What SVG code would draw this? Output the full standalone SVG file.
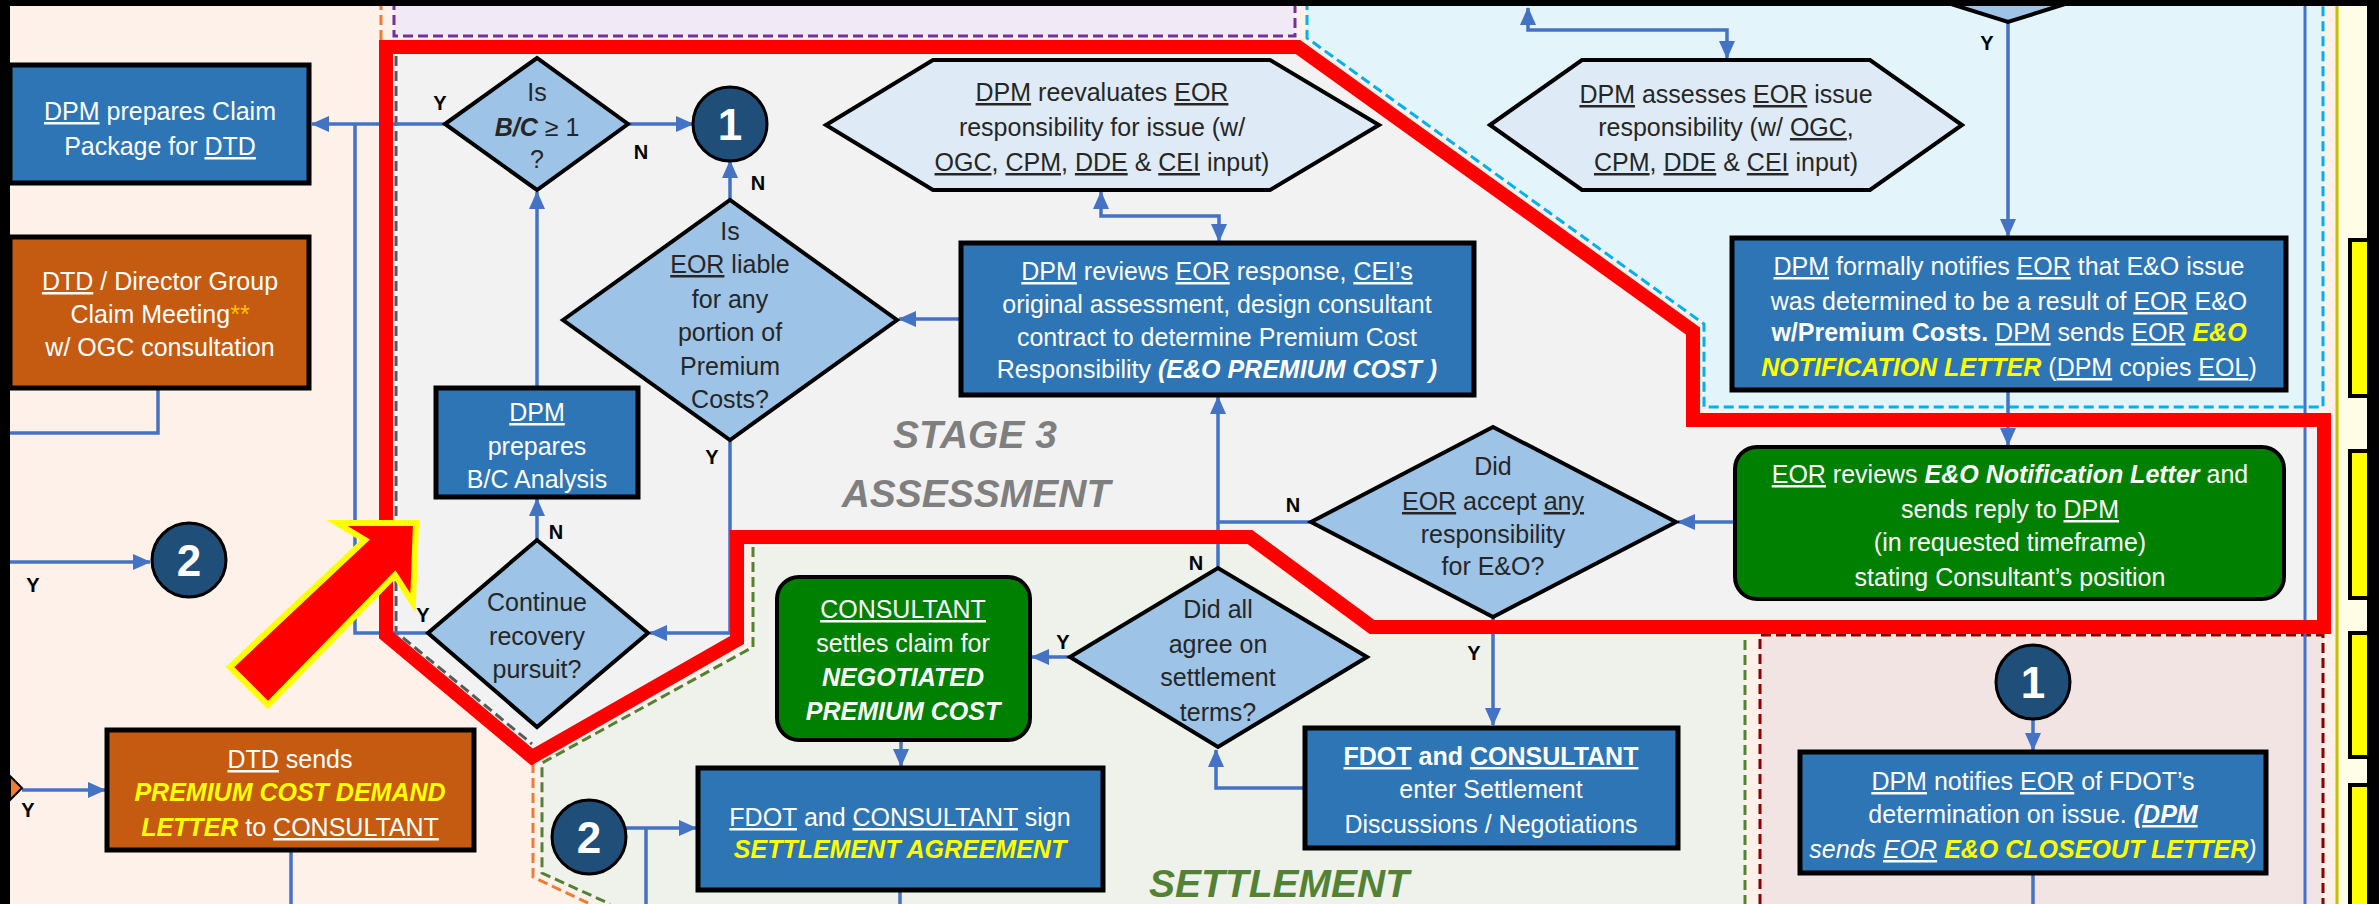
<svg xmlns="http://www.w3.org/2000/svg" width="2379" height="904" viewBox="0 0 2379 904">
<defs>
<style>
.box{fill:#2E75B6;stroke:#000;stroke-width:5}
.org{fill:#C55A11;stroke:#000;stroke-width:5}
.grn{fill:#008000;stroke:#000;stroke-width:4}
.dia{fill:#9DC3E6;stroke:#000;stroke-width:4}
.hex{fill:#DEEBF7;stroke:#000;stroke-width:4}
.circ{fill:#1F4E79;stroke:#000;stroke-width:3}
.t{font-family:"Liberation Sans",Arial,sans-serif;font-size:25px;text-anchor:middle}
.w{fill:#fff}
.d{fill:#262626}
.u{text-decoration:underline}
.b{font-weight:bold}
.i{font-style:italic}
.bi{font-weight:bold;font-style:italic}
.yl{fill:#FFFF00}
.num{font-family:"Liberation Sans",Arial,sans-serif;font-size:44px;font-weight:bold;fill:#fff;text-anchor:middle}
.lb{font-family:"Liberation Sans",Arial,sans-serif;font-size:20px;font-weight:bold;fill:#000;text-anchor:middle}
.stage{font-family:"Liberation Sans",Arial,sans-serif;font-size:39px;font-weight:bold;font-style:italic;text-anchor:middle}
.cn path,.cn line{fill:none;stroke:#4472C4;stroke-width:3.5}
.dash{fill:none;stroke-width:3;stroke-dasharray:10 5}
</style>
<marker id="ah" viewBox="0 0 18 16" refX="17" refY="8" markerWidth="18" markerHeight="16" markerUnits="userSpaceOnUse" orient="auto-start-reverse">
<path d="M0,0 L18,8 L0,16 z" fill="#4472C4"/>
</marker>
</defs>

<!-- backgrounds -->
<rect x="0" y="0" width="2379" height="904" fill="#FDF1EA"/>
<rect x="394" y="-5" width="901" height="41" fill="#F1E9F5"/>
<path class="dash" stroke="#7030A0" d="M394,0 V36 H1295 V0"/>
<path class="dash" stroke="#ED7D31" d="M381,0 V60"/>
<polygon points="1307,-5 1307,38 1704,324 1704,407 2323,407 2323,-5" fill="#E4F4FB"/>
<path class="dash" stroke="#00B0F0" d="M1307,0 V38 L1704,324 V407 H2323 V0"/>
<polygon points="386,47 1298,47 1693,331 1693,420 2324,420 2324,627 1372,627 1250,537 737,537 737,640 532,757 386,635" fill="#F2F2F2"/>
<path class="dash" stroke="#595959" d="M396,56 V632 L532,744"/>
<polygon points="753,547 1245,547 1370,638 1745,638 1745,904 610,904 542,873 542,763 753,647" fill="#EEF2EB"/>
<path class="dash" stroke="#548235" d="M753,547 V647 L542,763 V873 L610,904 M1745,640 V904"/>
<path class="dash" stroke="#ED7D31" d="M533,763 V877 L590,904"/>
<rect x="1760" y="635" width="563" height="275" fill="#F3E4E4"/>
<path class="dash" stroke="#8B0000" d="M1760,904 V635 H2323 V904"/>
<rect x="2336" y="0" width="31" height="904" fill="#FFFDE6"/>
<line x1="2337" y1="0" x2="2337" y2="904" stroke="#C8BE00" stroke-width="3"/>
<rect x="2350" y="240" width="30" height="156" fill="#FFFF00" stroke="#000" stroke-width="4"/>
<rect x="2350" y="451" width="30" height="147" fill="#FFFF00" stroke="#000" stroke-width="4"/>
<rect x="2350" y="633" width="30" height="124" fill="#FFFF00" stroke="#000" stroke-width="4"/>
<rect x="2350" y="785" width="30" height="130" fill="#FFFF00" stroke="#000" stroke-width="4"/>
<line x1="2305" y1="0" x2="2305" y2="904" stroke="#4472C4" stroke-width="3"/>

<!-- stage labels -->
<text class="stage" x="975" y="448" fill="#7F7F7F">STAGE 3</text>
<text class="stage" x="976" y="507" fill="#7F7F7F">ASSESSMENT</text>
<text class="stage" x="1279" y="897" fill="#548235">SETTLEMENT</text>

<!-- connectors -->
<g id="connectors" class="cn">
<path d="M445,124 H312" marker-end="url(#ah)"/>
<path d="M428,633 H355 V124"/>
<path d="M628,124 H693" marker-end="url(#ah)"/>
<path d="M730,200 V161" marker-end="url(#ah)"/>
<path d="M537,388 V192" marker-end="url(#ah)"/>
<path d="M537,540 V499" marker-end="url(#ah)"/>
<path d="M730,440 V633 H650" marker-end="url(#ah)"/>
<path d="M961,319 H899" marker-end="url(#ah)"/>
<path d="M1219,241 V216 H1101 V192" marker-start="url(#ah)" marker-end="url(#ah)"/>
<path d="M1311,522 H1218 V397" marker-end="url(#ah)"/>
<path d="M1218,568 V522"/>
<path d="M1735,522 H1678" marker-end="url(#ah)"/>
<path d="M2008,390 V445" marker-end="url(#ah)"/>
<path d="M2008,22 V236" marker-end="url(#ah)"/>
<path d="M1727,58 V30 H1528 V8" marker-start="url(#ah)" marker-end="url(#ah)"/>
<path d="M1493,617 V725" marker-end="url(#ah)"/>
<path d="M1305,788 H1216 V750" marker-end="url(#ah)"/>
<path d="M1070,657 H1032" marker-end="url(#ah)"/>
<path d="M901,740 V766" marker-end="url(#ah)"/>
<path d="M626,828 H696" marker-end="url(#ah)"/>
<path d="M646,828 V904"/>
<path d="M900,890 V904"/>
<path d="M2033,719 V750" marker-end="url(#ah)"/>
<path d="M2033,873 V904"/>
<path d="M158,388 V433 H10"/>
<path d="M10,562 H150" marker-end="url(#ah)"/>
<path d="M22,790 H105" marker-end="url(#ah)"/>
<path d="M291,850 V904"/>
</g>

<!-- red highlight outline -->
<polygon points="386,47 1298,47 1693,331 1693,420 2324,420 2324,627 1372,627 1250,537 737,537 737,640 532,757 386,635" fill="none" stroke="#FF0000" stroke-width="14" stroke-linejoin="miter"/>

<!-- nodes -->
<g id="n_claim_package">
<rect class="box" x="10" y="65" width="299" height="118"/>
<text class="t w" x="160" y="120"><tspan class="u">DPM</tspan> prepares Claim</text>
<text class="t w" x="160" y="155">Package for <tspan class="u">DTD</tspan></text>
</g>
<g id="n_dtd_meeting">
<rect class="org" x="10" y="237" width="299" height="151"/>
<text class="t w" x="160" y="290"><tspan class="u">DTD</tspan> / Director Group</text>
<text class="t w" x="160" y="323">Claim Meeting<tspan fill="#FFC000">**</tspan></text>
<text class="t w" x="160" y="356">w/ OGC consultation</text>
</g>
<g id="n_dtd_sends">
<rect class="org" x="107" y="730" width="367" height="120"/>
<text class="t w" x="290" y="768"><tspan class="u">DTD</tspan> sends</text>
<text class="t bi yl" x="290" y="801">PREMIUM COST DEMAND</text>
<text class="t w" x="290" y="836"><tspan class="bi yl">LETTER</tspan> to <tspan class="u">CONSULTANT</tspan></text>
</g>
<g id="n_left_diamond">
<polygon points="10,776 22,788 10,800" fill="#ED7D31" stroke="#000" stroke-width="2"/>
</g>
<g id="n_bc_diamond">
<polygon class="dia" points="445,124 537,58 628,124 537,190"/>
<text class="t d" x="537" y="101">Is</text>
<text class="t d" x="537" y="136"><tspan class="bi">B/C</tspan> ≥ 1</text>
<text class="t d" x="537" y="168">?</text>
</g>
<g id="n_circle1_top">
<circle class="circ" cx="730" cy="124" r="37"/>
<text class="num" x="730" y="140">1</text>
</g>
<g id="n_eor_liable">
<polygon class="dia" points="563,320 730,200 897,320 730,440"/>
<text class="t d" x="730" y="240">Is</text>
<text class="t d" x="730" y="273"><tspan class="u">EOR</tspan> liable</text>
<text class="t d" x="730" y="308">for any</text>
<text class="t d" x="730" y="341">portion of</text>
<text class="t d" x="730" y="375">Premium</text>
<text class="t d" x="730" y="408">Costs?</text>
</g>
<g id="n_bc_analysis">
<rect class="box" x="436" y="388" width="202" height="109"/>
<text class="t w" x="537" y="421"><tspan class="u">DPM</tspan></text>
<text class="t w" x="537" y="455">prepares</text>
<text class="t w" x="537" y="488">B/C Analysis</text>
</g>
<g id="n_continue">
<polygon class="dia" points="428,633 537,540 648,633 537,727"/>
<text class="t d" x="537" y="611">Continue</text>
<text class="t d" x="537" y="645">recovery</text>
<text class="t d" x="537" y="678">pursuit?</text>
</g>
<g id="n_reevaluate">
<polygon class="hex" points="826,125 933,60 1270,60 1379,125 1270,190 933,190"/>
<text class="t d" x="1102" y="101"><tspan class="u">DPM</tspan> reevaluates <tspan class="u">EOR</tspan></text>
<text class="t d" x="1102" y="136">responsibility for issue (w/</text>
<text class="t d" x="1102" y="171"><tspan class="u">OGC</tspan>, <tspan class="u">CPM</tspan>, <tspan class="u">DDE</tspan> &amp; <tspan class="u">CEI</tspan> input)</text>
</g>
<g id="n_reviews">
<rect class="box" x="961" y="243" width="513" height="152"/>
<text class="t w" x="1217" y="280"><tspan class="u">DPM</tspan> reviews <tspan class="u">EOR</tspan> response, <tspan class="u">CEI’s</tspan></text>
<text class="t w" x="1217" y="313">original assessment, design consultant</text>
<text class="t w" x="1217" y="346">contract to determine Premium Cost</text>
<text class="t w" x="1217" y="378">Responsibility  <tspan class="bi">(E&amp;O PREMIUM COST )</tspan></text>
</g>
<g id="n_assesses">
<polygon class="hex" points="1490,125 1582,60 1870,60 1962,125 1870,190 1582,190"/>
<text class="t d" x="1726" y="103"><tspan class="u">DPM</tspan> assesses <tspan class="u">EOR</tspan> issue</text>
<text class="t d" x="1726" y="136">responsibility (w/ <tspan class="u">OGC</tspan>,</text>
<text class="t d" x="1726" y="171"><tspan class="u">CPM</tspan>, <tspan class="u">DDE</tspan> &amp; <tspan class="u">CEI</tspan> input)</text>
</g>
<g id="n_top_diamond">
<polygon class="dia" points="1900,-12 2008,22 2116,-12"/>
</g>
<g id="n_notifies_formal">
<rect class="box" x="1732" y="238" width="554" height="152"/>
<text class="t w" x="2009" y="275"><tspan class="u">DPM</tspan> formally notifies <tspan class="u">EOR</tspan> that E&amp;O issue</text>
<text class="t w" x="2009" y="310">was determined to be a result of <tspan class="u">EOR</tspan> E&amp;O</text>
<text class="t w" x="2009" y="341"><tspan class="b">w/Premium Costs.</tspan> <tspan class="u">DPM</tspan> sends <tspan class="u">EOR</tspan> <tspan class="bi yl">E&amp;O</tspan></text>
<text class="t w" x="2009" y="376"><tspan class="bi yl">NOTIFICATION LETTER</tspan> (<tspan class="u">DPM</tspan> copies <tspan class="u">EOL</tspan>)</text>
</g>
<g id="n_eor_reviews">
<rect class="grn" x="1735" y="447" width="549" height="152" rx="22"/>
<text class="t w" x="2010" y="483"><tspan class="u">EOR</tspan> reviews <tspan class="bi">E&amp;O Notification Letter</tspan> and</text>
<text class="t w" x="2010" y="518">sends reply to <tspan class="u">DPM</tspan></text>
<text class="t w" x="2010" y="551">(in requested timeframe)</text>
<text class="t w" x="2010" y="586">stating Consultant’s position</text>
</g>
<g id="n_eor_accept">
<polygon class="dia" points="1311,522 1493,427 1676,522 1493,617"/>
<text class="t d" x="1493" y="475">Did</text>
<text class="t d" x="1493" y="510"><tspan class="u">EOR</tspan> accept <tspan class="u">any</tspan></text>
<text class="t d" x="1493" y="543">responsibility</text>
<text class="t d" x="1493" y="575">for E&amp;O?</text>
</g>
<g id="n_all_agree">
<polygon class="dia" points="1070,657 1218,568 1367,657 1218,747"/>
<text class="t d" x="1218" y="618">Did all</text>
<text class="t d" x="1218" y="653">agree on</text>
<text class="t d" x="1218" y="686">settlement</text>
<text class="t d" x="1218" y="721">terms?</text>
</g>
<g id="n_consultant_settles">
<rect class="grn" x="777" y="577" width="253" height="163" rx="22"/>
<text class="t w" x="903" y="618"><tspan class="u">CONSULTANT</tspan></text>
<text class="t w" x="903" y="652">settles claim for</text>
<text class="t w bi" x="903" y="686">NEGOTIATED</text>
<text class="t w bi" x="903" y="720">PREMIUM COST</text>
</g>
<g id="n_enter_settlement">
<rect class="box" x="1305" y="728" width="373" height="120"/>
<text class="t w" x="1491" y="765"><tspan class="u b">FDOT</tspan><tspan class="b"> and </tspan><tspan class="u b">CONSULTANT</tspan></text>
<text class="t w" x="1491" y="798">enter Settlement</text>
<text class="t w" x="1491" y="833">Discussions / Negotiations</text>
</g>
<g id="n_sign_agreement">
<rect class="box" x="698" y="768" width="405" height="122"/>
<text class="t w" x="900" y="826"><tspan class="u">FDOT</tspan> and <tspan class="u">CONSULTANT</tspan> sign</text>
<text class="t bi yl" x="900" y="858">SETTLEMENT AGREEMENT</text>
</g>
<g id="n_circle2_bottom">
<circle class="circ" cx="589" cy="837" r="37"/>
<text class="num" x="589" y="853">2</text>
</g>
<g id="n_circle2_left">
<circle class="circ" cx="189" cy="560" r="37"/>
<text class="num" x="189" y="576">2</text>
</g>
<g id="n_circle1_right">
<circle class="circ" cx="2033" cy="682" r="37"/>
<text class="num" x="2033" y="698">1</text>
</g>
<g id="n_closeout">
<rect class="box" x="1800" y="752" width="466" height="121"/>
<text class="t w" x="2033" y="790"><tspan class="u">DPM</tspan> notifies <tspan class="u">EOR</tspan> of FDOT’s</text>
<text class="t w" x="2033" y="823">determination on issue. <tspan class="bi">(<tspan class="u">DPM</tspan></tspan></text>
<text class="t w i" x="2033" y="858">sends <tspan class="u">EOR</tspan> <tspan class="b yl">E&amp;O CLOSEOUT LETTER</tspan>)</text>
</g>

<!-- Y / N labels -->
<g id="labels">
<text class="lb" x="440" y="110">Y</text>
<text class="lb" x="641" y="159">N</text>
<text class="lb" x="758" y="190">N</text>
<text class="lb" x="712" y="464">Y</text>
<text class="lb" x="556" y="539">N</text>
<text class="lb" x="423" y="622">Y</text>
<text class="lb" x="1293" y="512">N</text>
<text class="lb" x="1196" y="570">N</text>
<text class="lb" x="1474" y="660">Y</text>
<text class="lb" x="1063" y="649">Y</text>
<text class="lb" x="1987" y="50">Y</text>
<text class="lb" x="33" y="592">Y</text>
<text class="lb" x="28" y="817">Y</text>
</g>

<!-- big pointer arrow -->
<polygon points="337,523 416,523 413,603 395,575 268,705 230,667 365,540" fill="#FF0000" stroke="#FFFF00" stroke-width="6" stroke-linejoin="miter"/>

<!-- black frame edges -->
<rect x="0" y="0" width="2379" height="6" fill="#000"/>
<rect x="0" y="0" width="10" height="904" fill="#000"/>
<rect x="2367" y="0" width="12" height="904" fill="#000"/>
</svg>
